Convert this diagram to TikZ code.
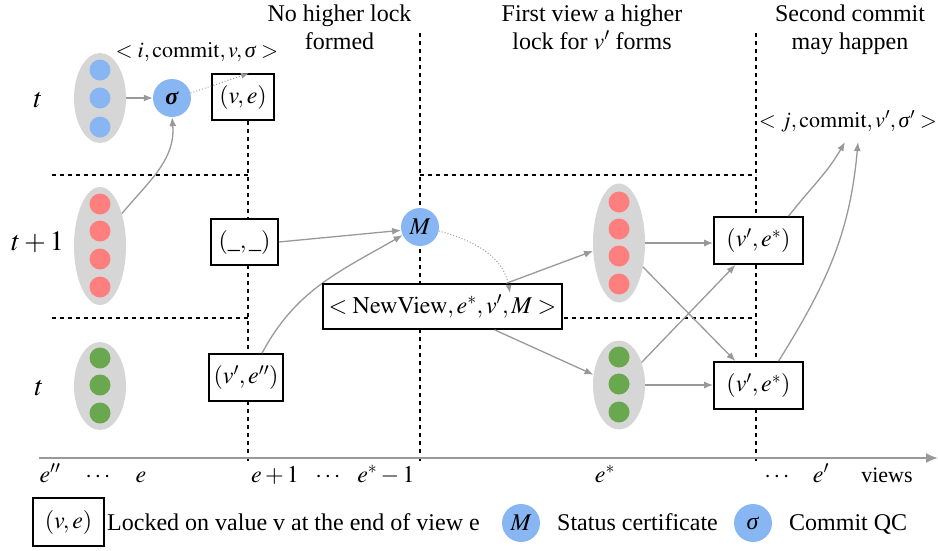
\documentclass[tikz,border=0pt]{standalone}
\usepackage{mathptmx}
\usepackage{fontspec}
\setmainfont{Liberation Serif}
\usetikzlibrary{arrows.meta,shapes.geometric}
\definecolor{ellgray}{HTML}{D6D6D6}
\definecolor{dotblue}{HTML}{88B6F2}
\definecolor{dotred}{HTML}{FF7F7F}
\definecolor{dotgreen}{HTML}{6AA84F}
\definecolor{arrgray}{HTML}{999999}
\newcommand{\fsz}[1]{\fontsize{#1}{#1}\selectfont}
\newcommand{\sig}{\mbox{\textit{σ}}}
\tikzset{
  grayell/.style={ellipse, fill=ellgray, minimum width=52pt, inner sep=0pt},
  dotnode/.style={circle, minimum size=21pt, inner sep=0pt},
  lockbox/.style={draw, line width=1.6pt, fill=white, inner sep=0pt, font=\fsz{24}},
  cert/.style={circle, fill=dotblue, minimum size=38pt, inner sep=0pt, font=\fsz{24}},
  conn/.style={draw=arrgray, line width=1.3pt, -{Latex[length=9pt,width=7pt]}},
  dotconn/.style={draw=arrgray, line width=1pt, dotted, -{Latex[length=8pt,width=6pt]}},
  sepline/.style={line width=1.8pt, dash pattern=on 4pt off 4pt},
  lbl/.style={font=\fsz{24}, inner sep=0pt, anchor=base},
  title/.style={font=\fontsize{24}{28}\selectfont, inner sep=0pt, anchor=north, align=center},
}
\begin{document}
\begin{tikzpicture}[x=1pt,y=-1pt]
\useasboundingbox (0,0) rectangle (938,550);
% separators
\draw[sepline] (248,97) -- (248,462);
\draw[sepline] (420,33) -- (420,462);
\draw[sepline] (756,33) -- (756,462);
\draw[sepline] (52,175) -- (248,175);
\draw[sepline] (52,318) -- (248,318);
\draw[sepline] (420,175) -- (756,175);
\draw[sepline] (420,318) -- (756,318);
% axis
\draw[draw=arrgray, line width=1.8pt, -{Latex[length=12pt,width=10pt]}] (39,458) -- (938,458);
% titles
\node[title] (T1) at (339.5,4.5) {No higher lock\\formed};
\node[title] (T2) at (592,4.5) {First view a higher\\lock for $v'$ forms};
\node[title] (T3) at (850,4.5) {Second commit\\may happen};
% row labels
\node[lbl, font=\fsz{28}] (R1) at (38,107) {$t$};
\node[lbl, font=\fsz{28}] (R2) at (37.5,250) {$t+1$};
\node[lbl, font=\fsz{28}] (R3) at (39,395) {$t$};
% ellipses with replicas
\node[grayell, minimum height=90pt] (E1) at (100,98) {};
\foreach \y [count=\i] in {70,98,127} \node[dotnode, fill=dotblue] (E1d\i) at (100,\y) {};
\node[grayell, minimum height=118pt] (E2) at (100,246) {};
\foreach \y [count=\i] in {204,231,259,287} \node[dotnode, fill=dotred] (E2d\i) at (100,\y) {};
\node[grayell, minimum height=88pt] (E3) at (100,386) {};
\foreach \y [count=\i] in {358,385,413} \node[dotnode, fill=dotgreen] (E3d\i) at (100,\y) {};
\node[grayell, minimum height=119pt] (E4) at (619,243) {};
\foreach \y [count=\i] in {202,229,256,284} \node[dotnode, fill=dotred] (E4d\i) at (619,\y) {};
\node[grayell, minimum height=89pt] (E5) at (619,385) {};
\foreach \y [count=\i] in {357,384,412} \node[dotnode, fill=dotgreen] (E5d\i) at (619,\y) {};
% certificates
\node[cert] (S) at (172,98) {\textbf{\textit{σ}}};
\node[cert] (M) at (420,227) {$M$};
% lock boxes
\node[lockbox, minimum width=62pt, minimum height=46pt] (B1) at (243,97) {$(v,e)$};
\node[lockbox, minimum width=67pt, minimum height=46pt] (B2) at (244.5,242) {$(\_,\_)$};
\node[lockbox, minimum width=74pt, minimum height=47pt] (B3) at (246,377.5) {$(v',e'')$};
\node[lockbox, minimum width=89pt, minimum height=47pt] (B4) at (758.5,240.5) {$(v',e^{*})$};
\node[lockbox, minimum width=89pt, minimum height=47pt] (B5) at (758.5,385.5) {$(v',e^{*})$};
% commit labels
\node[lbl, font=\fsz{22}] (C1) at (197,57) {$<i,\mathrm{commit},v,\sig>$};
\node[lbl, font=\fsz{22}] (C2) at (848,127) {$<j,\mathrm{commit},v',\sig'>$};
\coordinate (C2a) at (845,142);
\coordinate (C2b) at (858,142);
% arrows
\draw[conn] (E1.east) -- (S.west);
\draw[conn] (E2.56) to[out=50,in=-85] (S.south);
\draw[dotconn] (S.15) -- ([xshift=6pt]B1.north);
\draw[conn] (B2.east) -- (M.190);
\draw[conn] ([xshift=16pt]B3.north) to[out=62,in=210] (M.205);
% NewView box
\node[lockbox, minimum width=239pt, minimum height=45pt] (NV) at (442.5,306.5) {$<\mathrm{NewView},e^{*},v',M>$};
\coordinate (NVin) at (510,293);
\draw[dotconn] (M.-12) to[out=-15,in=100] (NVin);
\draw[conn] ([xshift=64pt]NV.north) -- (E4.197);
\draw[conn] ([xshift=52pt]NV.south) -- (E5.158);
\draw[conn] (E4.east) -- (E4.east -| B4.west);
\draw[conn] (E4.-45) -- ([xshift=-23pt]B5.north);
\draw[conn] (E5.45) -- ([xshift=-23pt]B4.south);
\draw[conn] (E5.east) -- (E5.east -| B5.west);
\draw[conn] ([xshift=30pt]B4.north) to[out=52,in=-120] (C2a);
\draw[conn] ([xshift=20pt]B5.north) to[out=58,in=-95] (C2b);
% axis labels
\node[lbl] (A1) at (50,482) {$e''$};
\node[lbl] (A2) at (98,482) {$\cdots$};
\node[lbl] (A3) at (141,482) {$e$};
\node[lbl] (A4) at (275,482) {$e+1$};
\node[lbl] (A5) at (328,482) {$\cdots$};
\node[lbl] (A6) at (386,482) {$e^{*}-1$};
\node[lbl] (A7) at (605,482) {$e^{*}$};
\node[lbl] (A8) at (777,482) {$\cdots$};
\node[lbl] (A9) at (821,482) {$e'$};
\node[lbl, font=\fsz{22}] (A10) at (887,482) {views};
% legend
\node[lockbox, minimum width=71pt, minimum height=48pt] (LB) at (68.5,522) {$(v,e)$};
\node[lbl, anchor=base west] (LT1) at (107,530) {Locked on value v at the end of view e};
\node[cert] (LM) at (521,523) {$M$};
\node[lbl, anchor=base west] (LT2) at (557,530) {Status certificate};
\node[cert] (LS) at (753,523) {\sig};
\node[lbl, anchor=base west] (LT3) at (789,530) {Commit QC};
\end{tikzpicture}
\end{document}
